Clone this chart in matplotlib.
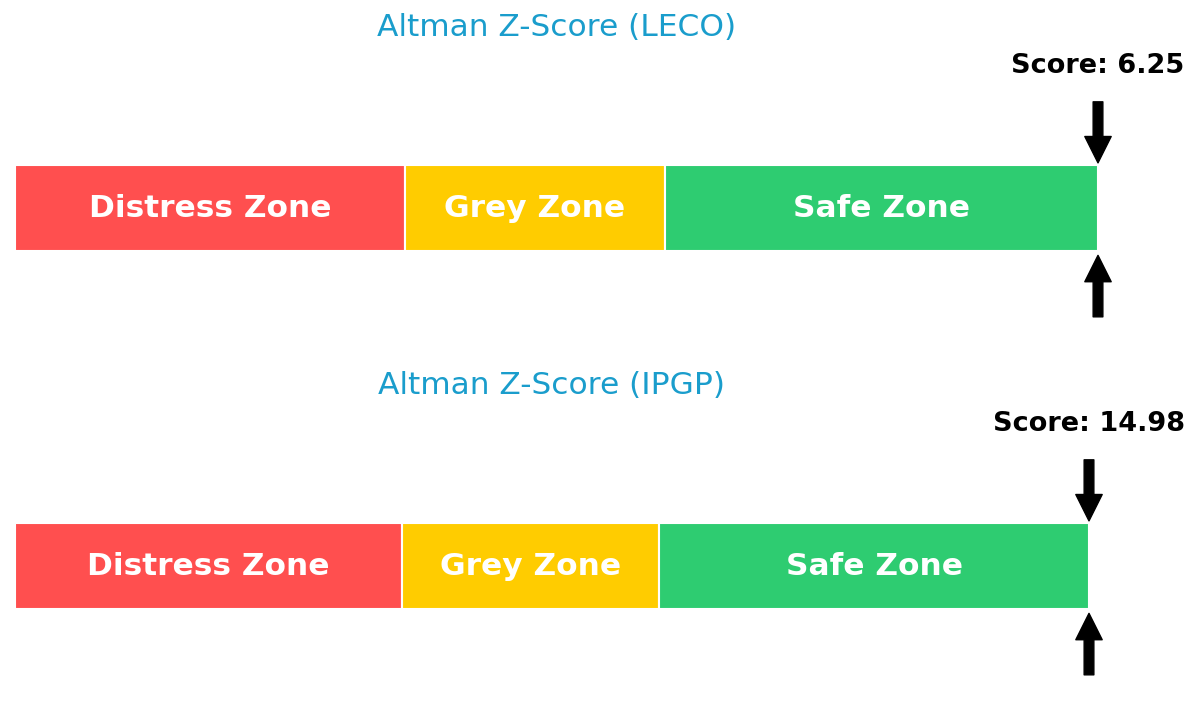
import matplotlib
matplotlib.use("Agg")
import matplotlib.pyplot as plt

# data
tickers = ["LECO", "IPGP"]
scores = [6.25, 14.98]
zone_names = ["Distress Zone", "Grey Zone", "Safe Zone"]
zone_edges = [0.0, 1.8, 3.0, 5.0]
zone_colors = ["#ff4f4f", "#ffcc00", "#2ecc71"]
x_max = 5.0

fig = plt.figure(figsize=(12, 7.15), dpi=100)

# axes boxes in figure fractions (left, bottom, width, height)
boxes = [
    [15 / 1200, 358 / 715, 1083 / 1200, 357 / 715],
    [15 / 1200, 0.0, 1074 / 1200, 357 / 715],
]

for ticker, score, box in zip(tickers, scores, boxes):
    ax = fig.add_axes(box)
    for i, name in enumerate(zone_names):
        left = zone_edges[i]
        width = zone_edges[i + 1] - left
        ax.barh(0, width, left=left, height=1.0, color=zone_colors[i],
                edgecolor="white", linewidth=1.5)
        ax.text(left + width / 2, 0, name, ha="center", va="center",
                color="white", fontsize=22.5, fontweight="bold")

    pos = min(score, x_max)
    ax.text(pos, 1.66, f"Score: {score:.2f}", ha="center", va="center",
            fontsize=19.5, fontweight="bold", color="black", clip_on=False)
    arrow = dict(facecolor="black", edgecolor="black", shrink=0,
                 width=7, headwidth=19, headlength=19)
    ax.annotate("", xy=(pos, 0.53), xytext=(pos, 1.24), arrowprops=arrow,
                annotation_clip=False)
    ax.annotate("", xy=(pos, -0.545), xytext=(pos, -1.26), arrowprops=arrow,
                annotation_clip=False)

    ax.text(x_max / 2, 2.10, f"Altman Z-Score ({ticker})", ha="center",
            va="center", fontsize=22.5, color="#1a9dcc")

    ax.set_xlim(0, x_max)
    ax.set_ylim(-1.727, 2.424)
    ax.axis("off")

fig.savefig("out.png", dpi=100)
